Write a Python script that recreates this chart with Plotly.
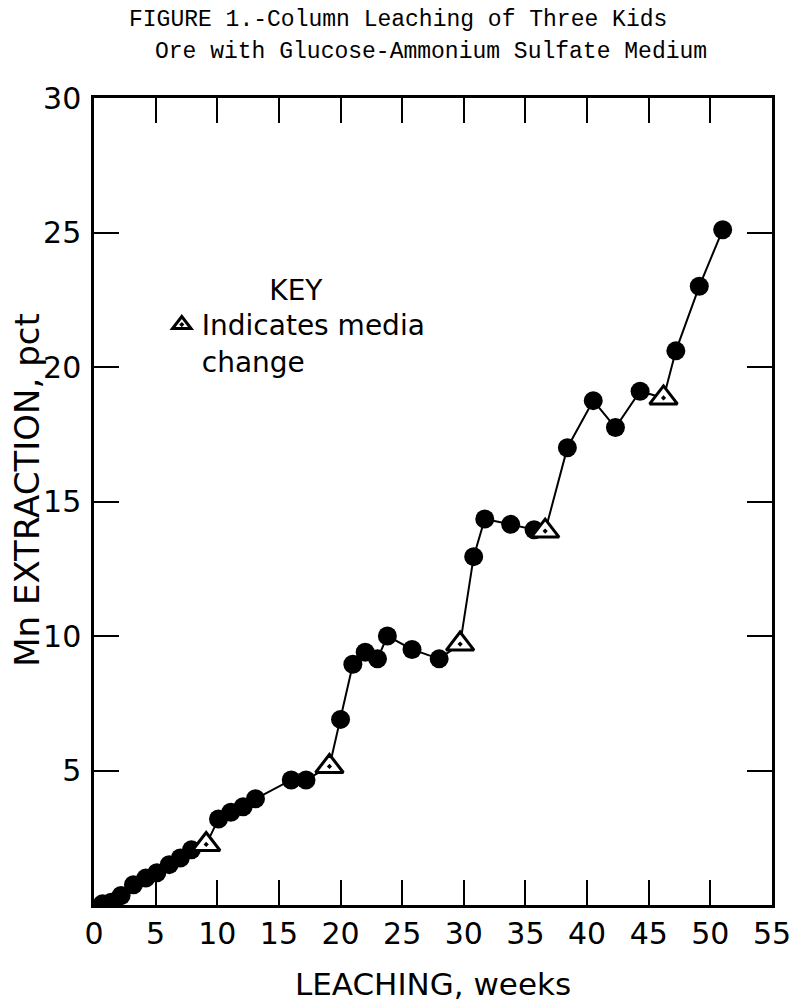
import plotly.graph_objects as go

# Mn extraction vs leaching time
weeks = [0.7, 1.4, 2.2, 3.2, 4.2, 5.1, 6.1, 7.0, 7.9, 9.1,
         10.1, 11.1, 12.1, 13.1, 16.0, 17.2, 19.1,
         20.0, 21.0, 22.0, 23.0, 23.8, 25.8, 28.0, 29.7,
         30.8, 31.7, 33.8, 35.7, 36.6,
         38.4, 40.5, 42.3, 44.3, 46.2,
         47.2, 49.1, 51.0]
mn_pct = [0.05, 0.1, 0.35, 0.75, 1.0, 1.2, 1.5, 1.75, 2.05, 2.25,
          3.2, 3.45, 3.65, 3.95, 4.65, 4.65, 5.15,
          6.9, 8.95, 9.4, 9.15, 10.0, 9.5, 9.15, 9.7,
          12.95, 14.35, 14.15, 13.95, 13.9,
          17.0, 18.75, 17.75, 19.1, 18.85,
          20.6, 23.0, 25.1]
# 1 = media change (triangle)
media_change = [0, 0, 0, 0, 0, 0, 0, 0, 0, 1,
                0, 0, 0, 0, 0, 0, 1,
                0, 0, 0, 0, 0, 0, 0, 1,
                0, 0, 0, 0, 1,
                0, 0, 0, 0, 1,
                0, 0, 0]

x_ticks = [0, 5, 10, 15, 20, 25, 30, 35, 40, 45, 50, 55]
y_ticks = [5, 10, 15, 20, 25, 30]

SANS = "DejaVu Sans"
MONO = "Liberation Mono, Courier New, monospace"

circ_x = [w for w, m in zip(weeks, media_change) if not m]
circ_y = [v for v, m in zip(mn_pct, media_change) if not m]
tri_x = [w for w, m in zip(weeks, media_change) if m]
tri_y = [v for v, m in zip(mn_pct, media_change) if m]

fig = go.Figure()

fig.add_trace(go.Scatter(
    x=weeks, y=mn_pct, mode="lines",
    line=dict(color="black", width=2),
    showlegend=False, hoverinfo="skip"
))
fig.add_trace(go.Scatter(
    x=circ_x, y=circ_y, mode="markers",
    marker=dict(symbol="circle", size=19, color="black"),
    showlegend=False
))
fig.add_trace(go.Scatter(
    x=tri_x, y=tri_y, mode="markers",
    marker=dict(symbol="triangle-up-dot", size=24, color="white",
                line=dict(color="black", width=3)),
    name="Indicates media<br>change"
))

axis_common = dict(
    showline=True, linecolor="black", linewidth=2.5, mirror="ticks",
    ticks="inside", ticklen=25, tickwidth=2, tickcolor="black",
    showgrid=False, zeroline=False, automargin=False,
    tickfont=dict(family=SANS, size=30, color="black"),
)

# page body keeps its default 8px margin, so the figure is 8px smaller
fig.update_layout(
    width=792, height=998,
    margin=dict(l=86, r=28, t=90, b=101),
    paper_bgcolor="white", plot_bgcolor="white",
    xaxis=dict(range=[0, 55], tickvals=x_ticks,
               title=dict(text="LEACHING, weeks", standoff=24,
                          font=dict(family=SANS, size=31, color="black")),
               **axis_common),
    yaxis=dict(range=[0, 30], tickvals=y_ticks, ticklabelstandoff=4,
               **axis_common),
    legend=dict(
        x=0.1, y=0.795, xanchor="left", yanchor="top",
        bgcolor="rgba(0,0,0,0)", valign="top", tracegroupgap=0,
        title=dict(text="KEY", side="top center",
                   font=dict(family=SANS, size=28, color="black")),
        font=dict(family=SANS, size=28, color="black"),
    ),
    annotations=[
        dict(text="FIGURE 1.-Column Leaching of Three Kids",
             xref="paper", yref="paper", x=0.0487, y=1.0967,
             xanchor="left", yanchor="middle", showarrow=False,
             font=dict(family=MONO, size=23, color="black")),
        dict(text="Ore with Glucose-Ammonium Sulfate Medium",
             xref="paper", yref="paper", x=0.087, y=1.057,
             xanchor="left", yanchor="middle", showarrow=False,
             font=dict(family=MONO, size=23, color="black")),
        # y axis title, placed by hand so it can sit close to the page edge
        dict(text="Mn EXTRACTION, pct", textangle=-90,
             xref="paper", yref="paper", x=-0.098, y=0.514,
             xanchor="center", yanchor="middle", showarrow=False,
             font=dict(family=SANS, size=34, color="black")),
    ],
)

fig.write_html("out.html")
